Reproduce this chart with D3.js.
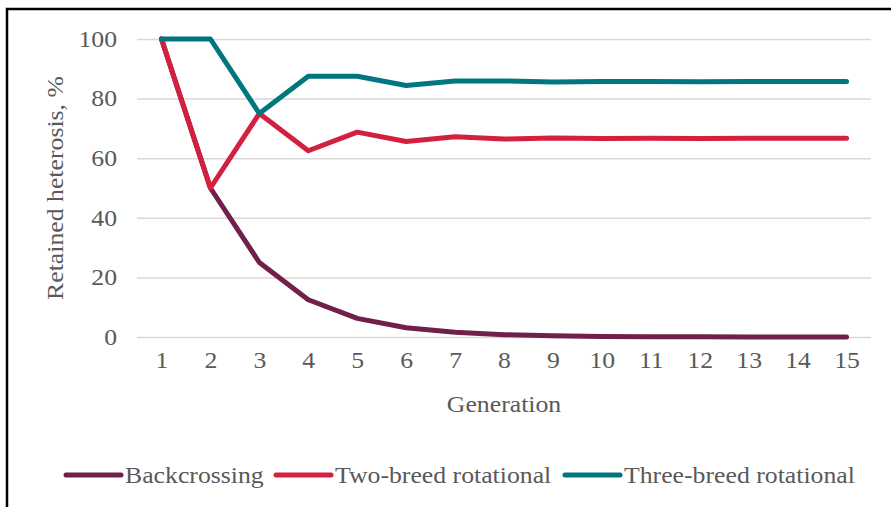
<!DOCTYPE html>
<html>
<head>
<meta charset="utf-8">
<script src="https://cdn.jsdelivr.net/npm/d3@7"></script>
<style>
  html, body { margin: 0; padding: 0; background: #fff; }
  svg { display: block; }
  text { font-family: "Liberation Serif", "Times New Roman", serif; fill: #595959; }
</style>
</head>
<body>
<svg id="chart" width="891" height="507"></svg>
<script>
// generations on the x axis
const generations = [1, 2, 3, 4, 5, 6, 7, 8, 9, 10, 11, 12, 13, 14, 15];
const yTicks = [0, 20, 40, 60, 80, 100];

// retained heterosis (%)
const backcrossing = [100, 50, 25, 12.5, 6.25, 3.13, 1.56, 0.78, 0.39, 0.2, 0.1, 0.05, 0.02, 0.01, 0.01];
const twoBreed = [100, 50, 75, 62.5, 68.75, 65.63, 67.19, 66.41, 66.8, 66.6, 66.7, 66.65, 66.67, 66.67, 66.67];
const threeBreed = [100, 100, 75, 87.5, 87.5, 84.38, 85.94, 85.94, 85.55, 85.74, 85.74, 85.69, 85.71, 85.71, 85.71];

const seriesNames = ["Backcrossing", "Two-breed rotational", "Three-breed rotational"];
const seriesColors = ["#70204a", "#d2203e", "#00767f"];

const series = [backcrossing, twoBreed, threeBreed].map((vals, i) => ({
  name: seriesNames[i],
  color: seriesColors[i],
  values: vals.map((v, j) => ({ g: generations[j], v: v }))
}));

const fontSize = 23;
const stretch = 1.12;   // the source text is a bit wider than Liberation Serif

const svg = d3.select("#chart");

// outer frame (chart is cropped at right and bottom)
svg.append("rect")
  .attr("x", 7).attr("y", 9)
  .attr("width", 900).attr("height", 520)
  .attr("fill", "none")
  .attr("stroke", "#000")
  .attr("stroke-width", 2.5);

const plotLeft = 137, plotRight = 871, plotTop = 39, plotBottom = 337;

const x = d3.scalePoint()
  .domain(generations)
  .range([plotLeft, plotRight])
  .padding(0.5);

const y = d3.scaleLinear()
  .domain([0, 100])
  .range([plotBottom, plotTop]);

// gridlines + y labels
const yAxis = svg.append("g")
  .attr("transform", "translate(" + plotLeft + ",0)")
  .call(d3.axisLeft(y).tickValues(yTicks).tickSize(-(plotRight - plotLeft)).tickPadding(20 / stretch));
yAxis.select(".domain").remove();
yAxis.selectAll(".tick line").attr("stroke", "#d9d9d9").attr("stroke-width", 1.5);
yAxis.selectAll(".tick text")
  .attr("font-size", fontSize)
  .attr("transform", "scale(" + stretch + ",1)")
  .style("font-family", "Liberation Serif")
  .attr("fill", "#595959");

// x labels
const xAxis = svg.append("g")
  .attr("transform", "translate(0," + plotBottom + ")")
  .call(d3.axisBottom(x).tickSize(0).tickPadding(15));
xAxis.select(".domain").remove();
xAxis.selectAll(".tick text")
  .attr("font-size", fontSize)
  .attr("transform", "scale(" + stretch + ",1)")
  .style("font-family", "Liberation Serif")
  .attr("fill", "#595959");

// axis titles
svg.append("text")
  .attr("transform", "translate(" + (plotLeft + plotRight) / 2 + ",412) scale(" + stretch + ",1)")
  .attr("text-anchor", "middle")
  .attr("font-size", fontSize)
  .text("Generation");

svg.append("text")
  .attr("transform", "translate(63," + (plotTop + plotBottom) / 2 + ") rotate(-90) scale(" + stretch + ",1)")
  .attr("text-anchor", "middle")
  .attr("font-size", fontSize)
  .text("Retained heterosis, %");

// lines
const line = d3.line()
  .x(d => x(d.g))
  .y(d => y(d.v));

svg.append("g")
  .selectAll("path")
  .data(series)
  .enter()
  .append("path")
    .attr("d", d => line(d.values))
    .attr("fill", "none")
    .attr("stroke", d => d.color)
    .attr("stroke-width", 5)
    .attr("stroke-linejoin", "round")
    .attr("stroke-linecap", "round");

// legend
const legendX = [66, 276, 565];
const legend = svg.append("g")
  .selectAll("g")
  .data(series)
  .enter()
  .append("g")
    .attr("transform", (d, i) => "translate(" + legendX[i] + ",475)");

legend.append("line")
  .attr("x1", 0).attr("x2", 55)
  .attr("stroke", d => d.color)
  .attr("stroke-width", 5)
  .attr("stroke-linecap", "round");

legend.append("text")
  .attr("transform", "translate(59,0) scale(" + stretch + ",1)")
  .attr("dy", "0.35em")
  .attr("font-size", fontSize)
  .text(d => d.name);
</script>
</body>
</html>
